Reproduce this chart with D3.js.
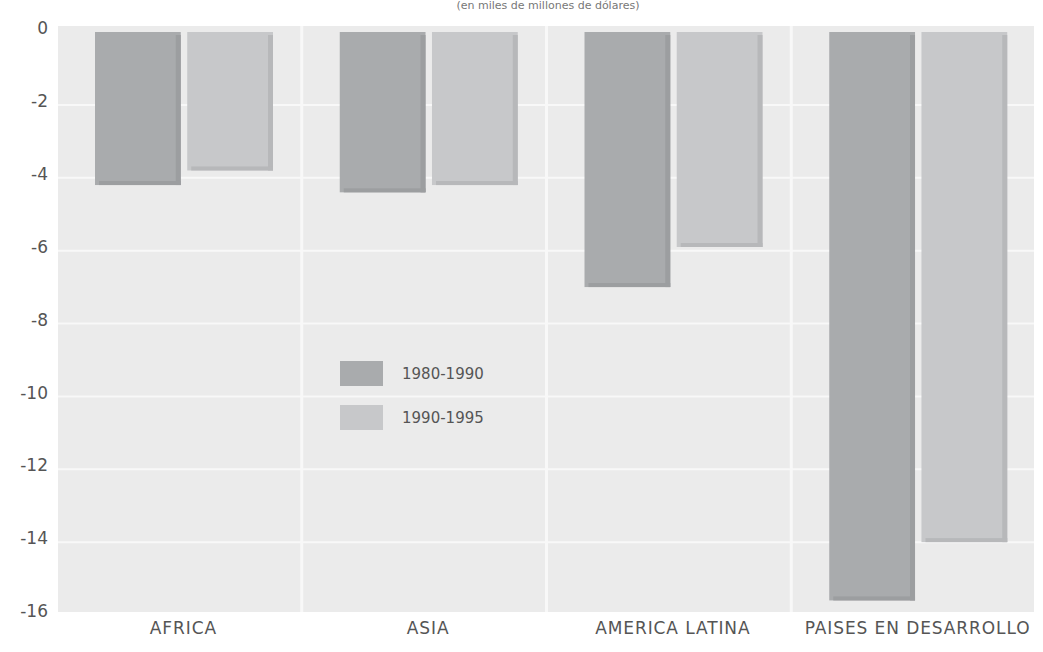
<!DOCTYPE html>
<html>
<head>
<meta charset="utf-8">
<script src="https://cdn.jsdelivr.net/npm/d3@7"></script>
<style>
  html, body { margin: 0; padding: 0; background: #ffffff; }
  svg { display: block; }
</style>
</head>
<body>
<svg id="chart" width="1043" height="652"></svg>
<script>
// Regions and the two periods compared
const categories = ["AFRICA", "ASIA", "AMERICA LATINA", "PAISES EN DESARROLLO"];
const periods = ["1980-1990", "1990-1995"];
const values1980_1990 = [-4.2, -4.4, -7.0, -15.6];
const values1990_1995 = [-3.8, -4.2, -5.9, -14.0];
const yTicks = [0, -2, -4, -6, -8, -10, -12, -14, -16];
const titleText = "(en miles de millones de dólares)";

const seriesValues = [values1980_1990, values1990_1995];
const fills = ["#a9abad", "#c7c8ca"];
const sideFills = ["#9c9ea0", "#b7b8ba"];
const font = "DejaVu Sans, sans-serif";

const svg = d3.select("#chart");
const plot = { left: 58, right: 1034, top: 26, bottom: 612 };

const x = d3.scaleBand().domain(categories).range([61, 1040]);
const xInner = d3.scaleBand().domain(periods).range([34, 212]).paddingInner(0.07);
const y = d3.scaleLinear().domain([0, -16]).range([32, 615]);

// Plot background
svg.append("rect")
  .attr("x", plot.left).attr("y", plot.top)
  .attr("width", plot.right - plot.left).attr("height", plot.bottom - plot.top)
  .attr("fill", "#ebebeb");

// Horizontal grid lines
svg.append("g").selectAll("line")
  .data(yTicks.filter(d => d !== 0 && d !== -16))
  .join("line")
  .attr("x1", plot.left).attr("x2", plot.right)
  .attr("y1", d => y(d)).attr("y2", d => y(d))
  .attr("stroke", "#f8f8f8").attr("stroke-width", 2);

// Vertical separators between regions
svg.append("g").selectAll("line")
  .data(categories.slice(1))
  .join("line")
  .attr("x1", d => x(d) - 4).attr("x2", d => x(d) - 4)
  .attr("y1", plot.top).attr("y2", plot.bottom)
  .attr("stroke", "#f8f8f8").attr("stroke-width", 3);

// Title
svg.append("text")
  .attr("x", 548).attr("y", 9)
  .attr("text-anchor", "middle")
  .attr("font-family", font)
  .attr("font-size", 11)
  .attr("fill", "#777")
  .text(titleText);

// Y axis (labels only)
const yAxis = d3.axisLeft(y).tickValues(yTicks).tickSize(0).tickPadding(0)
  .tickFormat(d => String(d));
const gy = svg.append("g").attr("transform", "translate(48,0)").call(yAxis);
gy.select(".domain").remove();
gy.selectAll("text")
  .attr("font-family", font)
  .attr("font-size", 17)
  .attr("dy", "0.1em")
  .attr("fill", "#555");

// Bars
const groups = svg.append("g").selectAll("g")
  .data(categories)
  .join("g")
  .attr("transform", d => `translate(${x(d)},0)`);

periods.forEach((p, si) => {
  const bw = xInner.bandwidth();
  // front face
  groups.append("rect")
    .attr("x", xInner(p))
    .attr("y", y(0))
    .attr("width", bw)
    .attr("height", (d, i) => y(seriesValues[si][i]) - y(0))
    .attr("fill", fills[si]);
  // shaded right side
  groups.append("rect")
    .attr("x", xInner(p) + bw - 5)
    .attr("y", y(0) + 3)
    .attr("width", 5)
    .attr("height", (d, i) => y(seriesValues[si][i]) - y(0) - 3)
    .attr("fill", sideFills[si]);
  // shaded bottom edge
  groups.append("rect")
    .attr("x", xInner(p) + 4)
    .attr("y", (d, i) => y(seriesValues[si][i]) - 4)
    .attr("width", bw - 4)
    .attr("height", 4)
    .attr("fill", sideFills[si]);
});

// Category labels
const xAxis = d3.axisBottom(x).tickSize(0).tickPadding(0);
const gx = svg.append("g").attr("transform", "translate(0,622)").call(xAxis);
gx.select(".domain").remove();
gx.selectAll("text")
  .attr("font-family", font)
  .attr("font-size", 17)
  .attr("letter-spacing", "0.9px")
  .attr("fill", "#555")
  .attr("dy", "0.71em");

// Legend
const legend = svg.append("g").attr("transform", "translate(340,361)");
periods.forEach((p, i) => {
  const row = legend.append("g").attr("transform", `translate(0,${i * 44})`);
  row.append("rect").attr("width", 43).attr("height", 25).attr("fill", fills[i]);
  row.append("text")
    .attr("x", 62).attr("y", 12.5).attr("dy", "0.35em")
    .attr("font-family", font)
    .attr("font-size", 15)
    .attr("fill", "#555")
    .text(p);
});
</script>
</body>
</html>
